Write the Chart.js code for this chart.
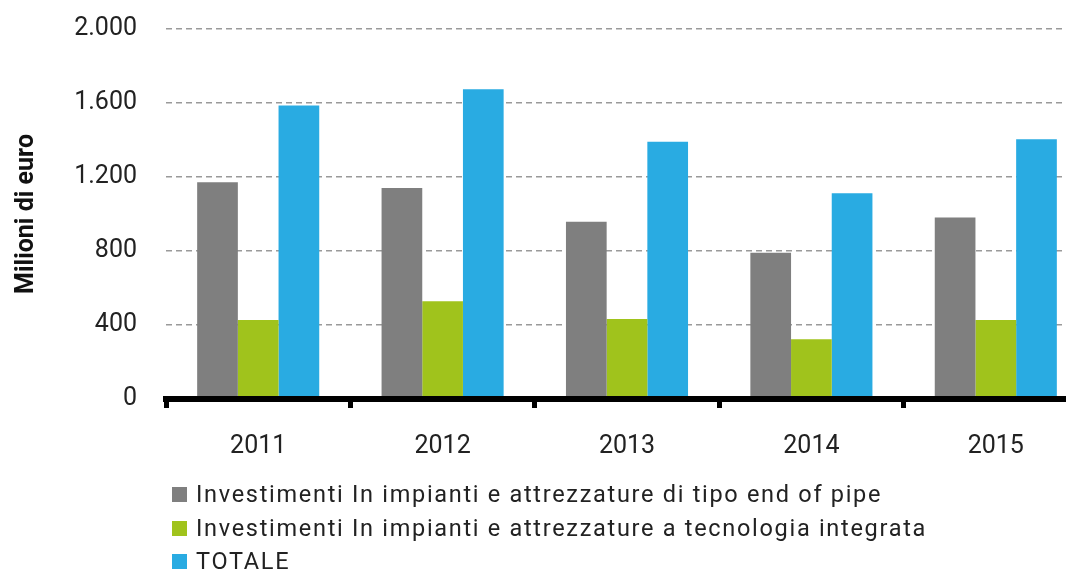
<!DOCTYPE html>
<html>
<head>
<meta charset="utf-8">
<script src="https://cdn.jsdelivr.net/npm/chart.js@4/dist/chart.umd.min.js"></script>
<style>
  html, body { margin: 0; padding: 0; background: #fff; overflow: hidden; width: 1066px; height: 575px; }
  #wrap { position: relative; width: 1090px; height: 486px; }
  #legend { position: absolute; left: 172px; top: 478px; font-family: Roboto, sans-serif; font-size: 23.5px; letter-spacing: 1.7px; color: #222; }
  #legend div { height: 33.5px; line-height: 33.5px; white-space: nowrap; }
  #legend span.box { display: inline-block; width: 15px; height: 15px; margin-right: 9px; vertical-align: 0px; }
</style>
</head>
<body>
<div id="wrap"><canvas id="chart"></canvas></div>
<div id="legend"></div>
<script>
// data (Milioni di euro)
const years = ["2011", "2012", "2013", "2014", "2015"];
const endOfPipe = [1171, 1141, 958, 791, 981];
const integrata = [427, 529, 432, 323, 427];
const totale = [1587, 1675, 1390, 1112, 1404];
const yTicks = [0, 400, 800, 1200, 1600, 2000];

const seriesNames = [
  "Investimenti In impianti e attrezzature di tipo end of pipe",
  "Investimenti In impianti e attrezzature a tecnologia integrata",
  "TOTALE"
];
const seriesColors = ["#7f7f7f", "#a0c31c", "#29abe2"];
const seriesData = [endOfPipe, integrata, totale];

const datasets = seriesData.map((d, i) => ({
  label: seriesNames[i],
  data: d,
  backgroundColor: seriesColors[i],
  barPercentage: 1,
  categoryPercentage: 0.662
}));

new Chart(document.getElementById("chart"), {
  type: "bar",
  data: { labels: years, datasets: datasets },
  options: {
    responsive: true,
    maintainAspectRatio: false,
    animation: false,
    layout: { padding: { top: 29, right: 2, bottom: 0, left: 0 } },
    plugins: {
      legend: { display: false },
      tooltip: { enabled: false }
    },
    scales: {
      x: {
        grid: {
          display: true,
          drawOnChartArea: false,
          drawTicks: true,
          tickLength: 9,
          tickWidth: 5,
          tickColor: "#000"
        },
        border: { display: true, color: "#000", width: 6, z: 1 },
        ticks: {
          color: "#222",
          padding: 24,
          font: { family: "Roboto", size: 25 }
        }
      },
      y: {
        min: 0,
        max: 2000,
        afterBuildTicks: (scale) => { scale.ticks = yTicks.map(v => ({ value: v })); },
        afterFit: (scale) => { scale.width = 166; },
        grid: {
          drawTicks: true,
          tickLength: 29,
          tickColor: "rgba(0,0,0,0)",
          color: "#9a9a9a",
          lineWidth: 1.5
        },
        border: { display: false, dash: [6, 4] },
        ticks: {
          color: "#222",
          padding: 0,
          font: { family: "Roboto", size: 25 },
          callback: (v) => v.toLocaleString("de-DE")
        },
        title: {
          display: true,
          text: "Milioni di euro",
          color: "#111",
          padding: { top: 12, bottom: 0 },
          font: { family: "Roboto", size: 25, weight: "bold" }
        }
      }
    }
  }
});

// legend, one item per line
const legendEl = document.getElementById("legend");
seriesNames.forEach((name, i) => {
  const row = document.createElement("div");
  const box = document.createElement("span");
  box.className = "box";
  box.style.background = seriesColors[i];
  row.appendChild(box);
  row.appendChild(document.createTextNode(name));
  legendEl.appendChild(row);
});
</script>
</body>
</html>
